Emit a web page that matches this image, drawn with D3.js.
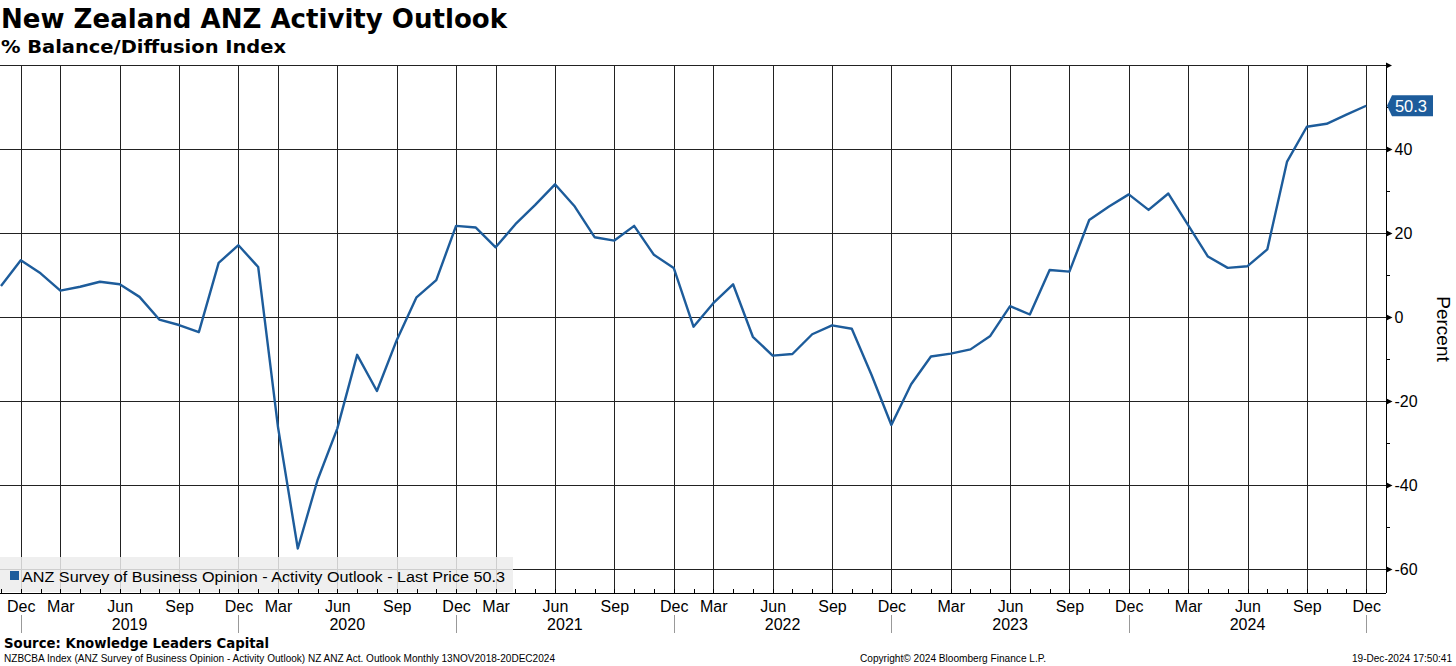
<html>
<head>
<meta charset="utf-8">
<script src="https://cdn.jsdelivr.net/npm/d3@7"></script>
<style>
  body { margin: 0; background: #fff; }
  svg text { font-family: "Liberation Sans", Arial, sans-serif; fill: #000; }
</style>
</head>
<body>
<div id="chart"></div>
<script>

// monthly observations (no January survey in 2019-2022)
var periods = [
  "Nov 2018", "Dec 2018",
  "Feb 2019", "Mar 2019", "Apr 2019", "May 2019", "Jun 2019", "Jul 2019", "Aug 2019", "Sep 2019", "Oct 2019", "Nov 2019", "Dec 2019",
  "Feb 2020", "Mar 2020", "Apr 2020", "May 2020", "Jun 2020", "Jul 2020", "Aug 2020", "Sep 2020", "Oct 2020", "Nov 2020", "Dec 2020",
  "Feb 2021", "Mar 2021", "Apr 2021", "May 2021", "Jun 2021", "Jul 2021", "Aug 2021", "Sep 2021", "Oct 2021", "Nov 2021", "Dec 2021",
  "Feb 2022", "Mar 2022", "Apr 2022", "May 2022", "Jun 2022", "Jul 2022", "Aug 2022", "Sep 2022", "Oct 2022", "Nov 2022", "Dec 2022",
  "Jan 2023", "Feb 2023", "Mar 2023", "Apr 2023", "May 2023", "Jun 2023", "Jul 2023", "Aug 2023", "Sep 2023", "Oct 2023", "Nov 2023", "Dec 2023",
  "Jan 2024", "Feb 2024", "Mar 2024", "Apr 2024", "May 2024", "Jun 2024", "Jul 2024", "Aug 2024", "Sep 2024", "Oct 2024", "Nov 2024", "Dec 2024"
];

var activityOutlook = [
  7.4, 13.5,
  10.4, 6.3, 7.2, 8.4, 7.8, 4.8, -0.6, -1.9, -3.6, 12.9, 17.1,
  11.9, -26.2, -55.1, -38.8, -26.5, -9.0, -17.6, -5.5, 4.7, 8.8, 21.7,
  21.3, 16.6, 22.1, 26.7, 31.6, 26.3, 19.0, 18.2, 21.7, 14.8, 11.7,
  -2.3, 3.3, 7.8, -4.7, -9.2, -8.8, -4.1, -2.0, -2.8, -13.8, -25.7,
  -16.0, -9.4, -8.7, -7.7, -4.5, 2.6, 0.6, 11.2, 10.8, 23.1, 26.3, 29.2,
  25.5, 29.4, 21.9, 14.4, 11.7, 12.1, 16.1, 37.0, 45.3, 46.0, 48.2, 50.3
];

var yTicks = [-60, -40, -20, 0, 20, 40];
var yMinorTicks = [-50, -30, -10, 10, 30, 50];
var quarterMonths = ["Dec", "Mar", "Jun", "Sep"];
var lastPrice = 50.3;

var W = 1456, H = 666;
var plotLeft = 0, plotRight = 1386, plotTop = 65, plotBottom = 593;
var blue = "#1d5c9b";

var svg = d3.select("#chart").append("svg")
    .attr("width", W)
    .attr("height", H);

var x = d3.scaleLinear().domain([0, periods.length]).range([plotLeft + 1, plotRight]);
var y = d3.scaleLinear().domain([-65.7, 60]).range([plotBottom, plotTop]);

var quarterIdx = d3.range(periods.length).filter(function(i) {
    return quarterMonths.indexOf(periods[i].slice(0, 3)) >= 0;
});
var decIdx = d3.range(periods.length).filter(function(i) {
    return periods[i].slice(0, 3) == "Dec";
});

// titles
svg.append("text").attr("x", 1).attr("y", 28)
    .style("font-family", "DejaVu Sans").style("font-weight", "bold").style("font-size", "26px")
    .attr("textLength", 506).attr("lengthAdjust", "spacingAndGlyphs")
    .text("New Zealand ANZ Activity Outlook");
svg.append("text").attr("x", 1).attr("y", 53)
    .style("font-family", "DejaVu Sans").style("font-weight", "bold").style("font-size", "18px")
    .attr("textLength", 285).attr("lengthAdjust", "spacingAndGlyphs")
    .text("% Balance/Diffusion Index");

// grid
var grid = svg.append("g").attr("stroke", "#222").attr("stroke-width", 1).attr("shape-rendering", "crispEdges");
grid.selectAll(".hg").data(yTicks.concat([60])).enter().append("line")
    .attr("x1", plotLeft).attr("x2", plotRight)
    .attr("y1", function(d) { return Math.round(y(d)) + 0.5; })
    .attr("y2", function(d) { return Math.round(y(d)) + 0.5; });
grid.selectAll(".vg").data(quarterIdx).enter().append("line")
    .attr("y1", plotTop).attr("y2", plotBottom)
    .attr("x1", function(d) { return Math.round(x(d)) + 0.5; })
    .attr("x2", function(d) { return Math.round(x(d)) + 0.5; });

// top arrow
svg.append("path")
    .attr("d", "M" + plotRight + "," + (plotTop - 2.5) + "L" + (plotRight + 6) + "," + (plotTop + 0.5) + "L" + plotRight + "," + (plotTop + 3.5) + "Z")
    .attr("fill", "#000");

// line
var line = d3.line()
    .x(function(d, i) { return x(i); })
    .y(function(d) { return y(d); });
svg.append("path")
    .datum(activityOutlook)
    .attr("fill", "none")
    .attr("stroke", blue)
    .attr("stroke-width", 2.4)
    .attr("stroke-linejoin", "round")
    .attr("d", line);

// legend
svg.append("rect").attr("x", 0).attr("y", 557).attr("width", 513).attr("height", 35)
    .attr("fill", "rgb(236,236,236)").attr("fill-opacity", 0.85);
svg.append("rect").attr("x", 10).attr("y", 571).attr("width", 9).attr("height", 9).attr("fill", blue);
svg.append("text").attr("x", 22).attr("y", 581.5)
    .style("font-size", "15.5px")
    .attr("textLength", 483).attr("lengthAdjust", "spacingAndGlyphs")
    .text("ANZ Survey of Business Opinion - Activity Outlook - Last Price " + lastPrice);

// x axis
var xAxis = d3.axisBottom(x)
    .tickValues(d3.range(periods.length))
    .tickSize(0)
    .tickFormat(function(i) {
        var m = periods[i].slice(0, 3);
        return quarterMonths.indexOf(m) >= 0 ? m : "";
    });
var gx = svg.append("g").attr("transform", "translate(0," + (plotBottom + 0.5) + ")").call(xAxis);
gx.select(".domain").attr("stroke", "#000").attr("d", "M" + plotLeft + ",0H" + plotRight);
gx.selectAll("text").attr("dy", 0).attr("y", 18).style("font-size", "16px").style("font-family", "Liberation Sans");
// small month ticks pointing up
svg.append("g").selectAll("line").data(d3.range(periods.length)).enter().append("line")
    .attr("x1", function(d) { return Math.round(x(d)) + 0.5; })
    .attr("x2", function(d) { return Math.round(x(d)) + 0.5; })
    .attr("y1", plotBottom).attr("y2", plotBottom - 4)
    .attr("stroke", "#000").attr("shape-rendering", "crispEdges");

// year separators and labels
svg.append("g").selectAll("line").data(decIdx).enter().append("line")
    .attr("x1", function(d) { return Math.round(x(d)) + 0.5; })
    .attr("x2", function(d) { return Math.round(x(d)) + 0.5; })
    .attr("y1", 615).attr("y2", 633)
    .attr("stroke", "#999").attr("shape-rendering", "crispEdges");
var yearSpans = d3.pairs(decIdx);
svg.append("g").selectAll("text").data(yearSpans).enter().append("text")
    .attr("x", function(d) { return (x(d[0]) + x(d[1])) / 2; })
    .attr("y", 630)
    .attr("text-anchor", "middle")
    .style("font-size", "16px")
    .text(function(d) { return periods[d[1]].slice(4); });

// y axis on the right
var yAxis = d3.axisRight(y).tickValues(yTicks).tickSize(0).tickPadding(8)
    .tickFormat(function(d) { return d < 0 ? "-" + Math.abs(d) : d; });
var gy = svg.append("g").attr("transform", "translate(" + (plotRight + 0.5) + ",0)").call(yAxis);
gy.select(".domain").attr("stroke", "#000").attr("d", "M0," + plotTop + "V" + plotBottom);
gy.selectAll("text").style("font-size", "16px").style("font-family", "Liberation Sans");
gy.selectAll(".tick").append("path").attr("d", "M0,-3L6,0L0,3Z").attr("fill", "#000");
svg.append("g").selectAll("line").data(yMinorTicks).enter().append("line")
    .attr("x1", plotRight).attr("x2", plotRight + 4)
    .attr("y1", function(d) { return Math.round(y(d)) + 0.5; })
    .attr("y2", function(d) { return Math.round(y(d)) + 0.5; })
    .attr("stroke", "#000").attr("shape-rendering", "crispEdges");

svg.append("text")
    .attr("transform", "translate(1437," + 329 + ") rotate(90)")
    .attr("text-anchor", "middle")
    .style("font-size", "19px")
    .text("Percent");

// last price tag
var ty = y(lastPrice);
svg.append("path")
    .attr("d", "M" + (plotRight + 1) + "," + ty + "L" + (plotRight + 6) + "," + (ty - 10.5) + "H1433V" + (ty + 10.5) + "H" + (plotRight + 6) + "Z")
    .attr("fill", blue);
svg.append("text").attr("x", 1411).attr("y", ty + 6)
    .attr("text-anchor", "middle")
    .style("font-size", "16.5px").style("fill", "#fff")
    .text(lastPrice);

// footer
svg.append("text").attr("x", 4).attr("y", 648)
    .style("font-family", "DejaVu Sans").style("font-weight", "bold").style("font-size", "14px")
    .attr("textLength", 265).attr("lengthAdjust", "spacingAndGlyphs")
    .text("Source: Knowledge Leaders Capital");
svg.append("text").attr("x", 4).attr("y", 662)
    .style("font-size", "10px")
    .attr("textLength", 551).attr("lengthAdjust", "spacingAndGlyphs")
    .text("NZBCBA Index (ANZ Survey of Business Opinion - Activity Outlook) NZ ANZ Act. Outlook  Monthly 13NOV2018-20DEC2024");
svg.append("text").attr("x", 860).attr("y", 662)
    .style("font-size", "10px")
    .attr("textLength", 186).attr("lengthAdjust", "spacingAndGlyphs")
    .text("Copyright\u00a9 2024 Bloomberg Finance L.P.");
svg.append("text").attr("x", 1352).attr("y", 662)
    .style("font-size", "10px")
    .attr("textLength", 100).attr("lengthAdjust", "spacingAndGlyphs")
    .text("19-Dec-2024 17:50:41");

</script>
</body>
</html>
